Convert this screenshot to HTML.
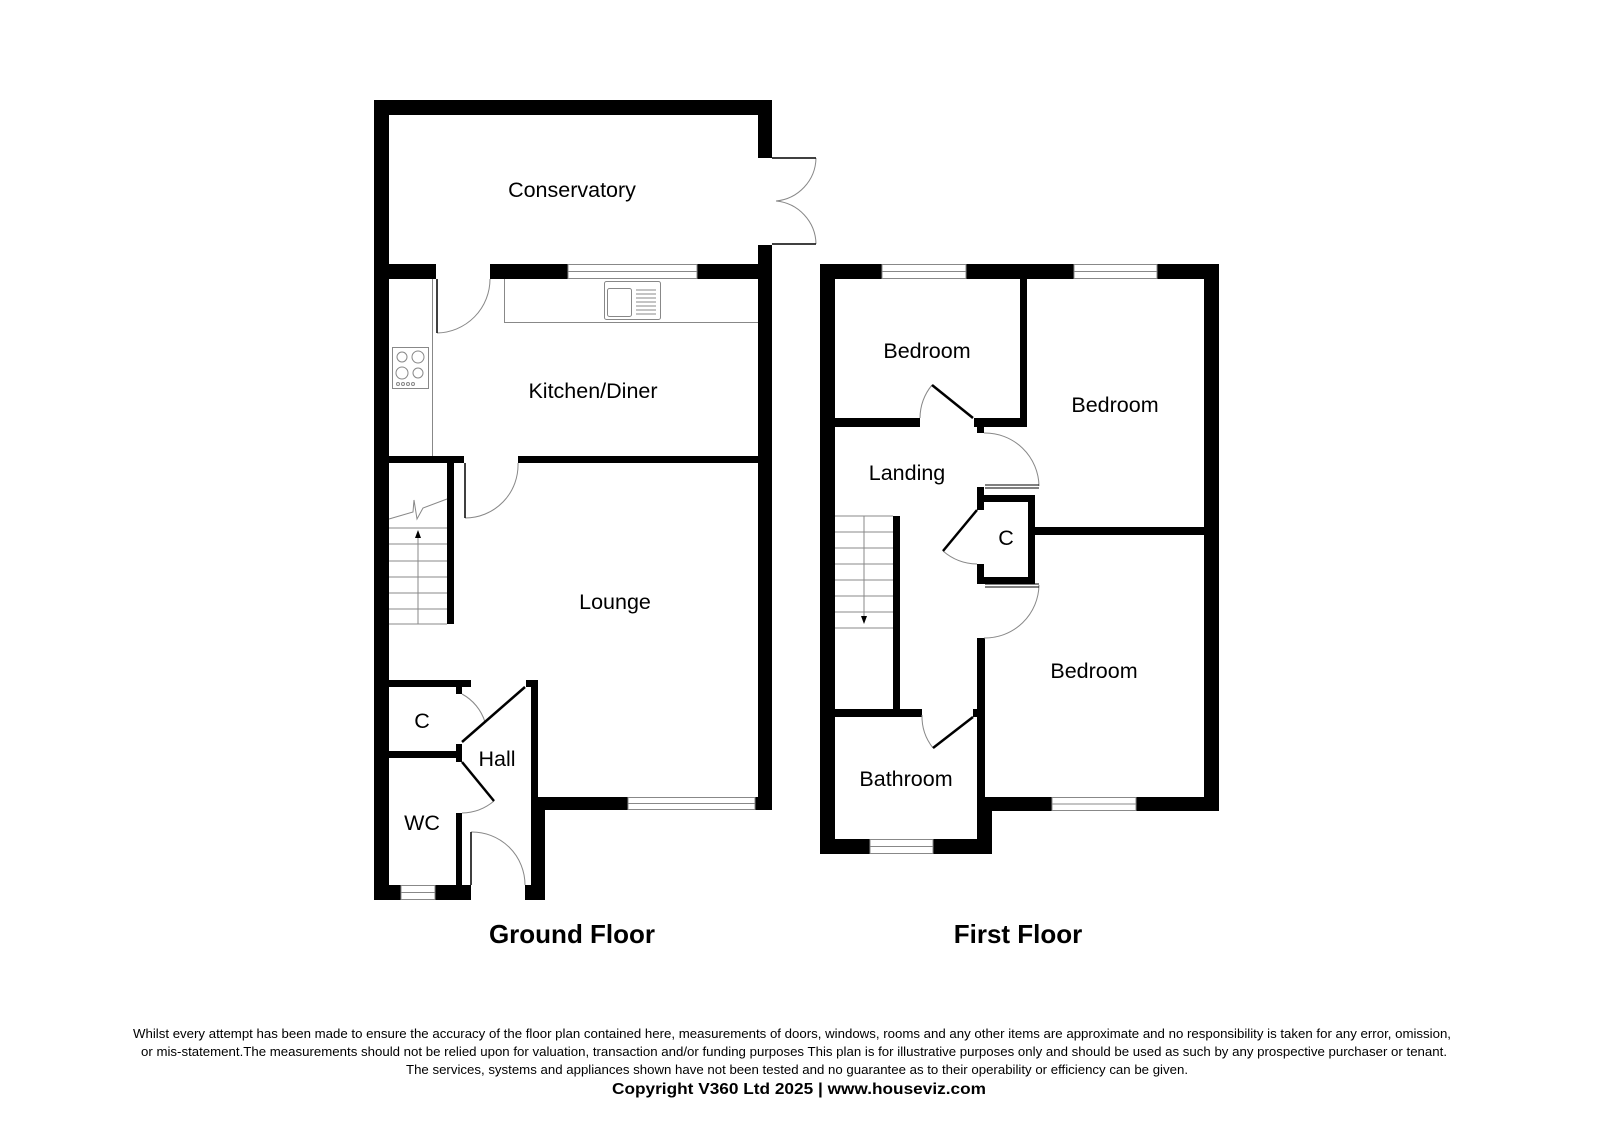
<!DOCTYPE html>
<html><head><meta charset="utf-8"><style>
html,body{margin:0;padding:0;background:#fff;}
svg{display:block;font-family:"Liberation Sans",Arial,sans-serif;}
</style></head><body>
<svg width="1600" height="1130" viewBox="0 0 1600 1130" xmlns="http://www.w3.org/2000/svg">
<g fill="#000">
<rect x="374" y="100" width="15" height="800"/>
<rect x="374" y="100" width="398" height="15"/>
<rect x="758" y="100" width="14" height="58"/>
<rect x="758" y="245" width="14" height="565"/>
<rect x="374" y="264" width="62" height="15"/>
<rect x="490" y="264" width="78" height="15"/>
<rect x="697" y="264" width="61" height="15"/>
<rect x="389" y="456" width="75" height="7"/>
<rect x="518" y="456" width="240" height="7"/>
<rect x="447" y="463" width="7" height="161"/>
<rect x="389" y="680" width="82" height="7"/>
<rect x="456" y="687" width="6" height="7"/>
<rect x="526" y="680" width="12" height="7"/>
<rect x="531" y="680" width="7" height="130"/>
<rect x="531" y="797" width="14" height="103"/>
<rect x="538" y="797" width="90" height="13"/>
<rect x="755" y="797" width="17" height="13"/>
<rect x="389" y="751" width="73" height="7"/>
<rect x="456" y="744" width="6" height="18"/>
<rect x="456" y="813" width="6" height="72"/>
<rect x="374" y="885" width="27" height="15"/>
<rect x="435" y="885" width="36" height="15"/>
<rect x="525" y="885" width="20" height="15"/>
<rect x="820" y="264" width="15" height="590"/>
<rect x="820" y="264" width="62" height="15"/>
<rect x="966" y="264" width="108" height="15"/>
<rect x="1157" y="264" width="62" height="15"/>
<rect x="1204" y="264" width="15" height="547"/>
<rect x="1020" y="279" width="7" height="148"/>
<rect x="835" y="418" width="85" height="9"/>
<rect x="974" y="418" width="53" height="9"/>
<rect x="977" y="427" width="7" height="6"/>
<rect x="977" y="487" width="7" height="23"/>
<rect x="984" y="495" width="51" height="7"/>
<rect x="1028" y="495" width="7" height="89"/>
<rect x="984" y="577" width="51" height="7"/>
<rect x="977" y="564" width="7" height="20"/>
<rect x="1035" y="527" width="169" height="8"/>
<rect x="977" y="638" width="8" height="216"/>
<rect x="977" y="797" width="15" height="57"/>
<rect x="985" y="797" width="67" height="14"/>
<rect x="1136" y="797" width="83" height="14"/>
<rect x="893" y="516" width="7" height="193"/>
<rect x="835" y="709" width="87" height="8"/>
<rect x="973" y="709" width="4" height="8"/>
<rect x="820" y="839" width="50" height="15"/>
<rect x="933" y="839" width="59" height="15"/>
</g>
<g fill="#fff" stroke="#888" stroke-width="1">
<rect x="568" y="264.5" width="129" height="14"/><line x1="568" y1="271.5" x2="697" y2="271.5"/>
<rect x="628" y="797.5" width="127" height="12"/><line x1="628" y1="803.5" x2="755" y2="803.5"/>
<rect x="401" y="885.5" width="34" height="14"/><line x1="401" y1="892.5" x2="435" y2="892.5"/>
<rect x="882" y="264.5" width="84" height="14"/><line x1="882" y1="271.5" x2="966" y2="271.5"/>
<rect x="1074" y="264.5" width="83" height="14"/><line x1="1074" y1="271.5" x2="1157" y2="271.5"/>
<rect x="1052" y="797.5" width="84" height="13"/><line x1="1052" y1="804" x2="1136" y2="804"/>
<rect x="870" y="839.5" width="63" height="14"/><line x1="870" y1="846.5" x2="933" y2="846.5"/>
</g>
<g fill="none" stroke="#888" stroke-width="1">
<line x1="432.5" y1="279" x2="432.5" y2="456"/>
<polyline points="504.5,279 504.5,322.5 758,322.5"/>
<rect x="604.5" y="281.5" width="56" height="38" rx="2"/>
<rect x="607.5" y="288.5" width="24" height="28" rx="2"/>
<line x1="636" y1="290" x2="656" y2="290"/><line x1="636" y1="294" x2="656" y2="294"/>
<line x1="636" y1="298" x2="656" y2="298"/><line x1="636" y1="302" x2="656" y2="302"/>
<line x1="636" y1="306" x2="656" y2="306"/><line x1="636" y1="310" x2="656" y2="310"/>
<line x1="636" y1="314" x2="656" y2="314"/>
<rect x="392.5" y="347.5" width="36" height="41"/>
<circle cx="402" cy="357" r="5"/><circle cx="418" cy="357" r="6"/>
<circle cx="402" cy="373" r="6"/><circle cx="418" cy="373" r="5"/>
<circle cx="398" cy="384" r="1.5"/><circle cx="403" cy="384" r="1.5"/><circle cx="408" cy="384" r="1.5"/><circle cx="413" cy="384" r="1.5"/>
<line x1="389" y1="528" x2="447" y2="528"/><line x1="389" y1="544" x2="447" y2="544"/>
<line x1="389" y1="561" x2="447" y2="561"/><line x1="389" y1="577" x2="447" y2="577"/>
<line x1="389" y1="593" x2="447" y2="593"/><line x1="389" y1="609" x2="447" y2="609"/>
<line x1="389" y1="624" x2="447" y2="624"/>
<line x1="418" y1="624" x2="418" y2="535"/>
<polyline points="389,519 413,512 414,500 417,519 423,508 447,499"/>
<line x1="835" y1="516" x2="893" y2="516"/><line x1="835" y1="532" x2="893" y2="532"/>
<line x1="835" y1="548" x2="893" y2="548"/><line x1="835" y1="564" x2="893" y2="564"/>
<line x1="835" y1="580" x2="893" y2="580"/><line x1="835" y1="596" x2="893" y2="596"/>
<line x1="835" y1="612" x2="893" y2="612"/><line x1="835" y1="628" x2="893" y2="628"/>
<line x1="864" y1="516" x2="864" y2="620"/>
<path d="M437,333 A54,54 0 0 0 490,279"/>
<path d="M465,518 A53,53 0 0 0 518,463"/>
<path d="M471,832 A53,53 0 0 1 525,885"/>
<path d="M462,694 A48,48 0 0 1 485,722"/>
<path d="M494,801 A51,51 0 0 1 462,813"/>
<path d="M816,158 A44,44 0 0 1 776,201"/>
<path d="M816,244 A44,44 0 0 0 776,201"/>
<path d="M920,418 A53,53 0 0 1 932,385"/>
<path d="M984,433 A54,54 0 0 1 1039,486"/>
<path d="M943,551 A53,53 0 0 0 977,564"/>
<path d="M1039,585 A54,54 0 0 1 984,638"/>
<path d="M922,715 A51,51 0 0 0 933,748"/>
</g>
<g fill="#000">
<polygon points="418,530 415,538 421,538"/>
<polygon points="864,624 861,616 867,616"/>
</g>
<g stroke="#000" fill="none">
<line x1="437" y1="279" x2="437" y2="333" stroke-width="1.5"/>
<line x1="465" y1="463" x2="465" y2="518" stroke-width="1.5"/>
<line x1="471" y1="832" x2="471" y2="885" stroke-width="1.5"/>
<line x1="772" y1="158" x2="816" y2="158" stroke-width="1.5"/>
<line x1="772" y1="244" x2="816" y2="244" stroke-width="1.5"/>
<line x1="462" y1="742" x2="525" y2="687" stroke-width="2.5"/>
<line x1="462" y1="762" x2="494" y2="801" stroke-width="2.5"/>
<line x1="932" y1="385" x2="973" y2="418" stroke-width="2.5"/>
<line x1="977" y1="510" x2="943" y2="551" stroke-width="2.5"/>
<line x1="933" y1="748" x2="973" y2="717" stroke-width="2.5"/>
<line x1="985" y1="485" x2="1039" y2="485" stroke-width="1"/>
<line x1="985" y1="488" x2="1039" y2="488" stroke-width="1"/>
<line x1="985" y1="584" x2="1039" y2="584" stroke-width="1"/>
<line x1="985" y1="587" x2="1039" y2="587" stroke-width="1"/>
</g>
<g font-size="21.5" fill="#000" text-anchor="middle">
<text x="572" y="197">Conservatory</text>
<text x="593" y="398">Kitchen/Diner</text>
<text x="615" y="609">Lounge</text>
<text x="422" y="728">C</text>
<text x="497" y="766">Hall</text>
<text x="422" y="830">WC</text>
<text x="927" y="358">Bedroom</text>
<text x="1115" y="412">Bedroom</text>
<text x="907" y="480">Landing</text>
<text x="1006" y="545">C</text>
<text x="1094" y="678">Bedroom</text>
<text x="906" y="786">Bathroom</text>
</g>
<g font-size="26" font-weight="bold" text-anchor="middle">
<text x="572" y="943">Ground Floor</text>
<text x="1018" y="943">First Floor</text>
</g>
<g font-size="12.5" text-anchor="middle">
<text x="792" y="1038" textLength="1318" lengthAdjust="spacingAndGlyphs">Whilst every attempt has been made to ensure the accuracy of the floor plan contained here, measurements of doors, windows, rooms and any other items are approximate and no responsibility is taken for any error, omission,</text>
<text x="794" y="1056" textLength="1306" lengthAdjust="spacingAndGlyphs">or mis-statement.The measurements should not be relied upon for valuation, transaction and/or funding purposes This plan is for illustrative purposes only and should be used as such by any prospective purchaser or tenant.</text>
<text x="797" y="1074" textLength="782" lengthAdjust="spacingAndGlyphs">The services, systems and appliances shown have not been tested and no guarantee as to their operability or efficiency can be given.</text>
</g>
<text x="799" y="1094" font-size="15.5" font-weight="bold" text-anchor="middle" textLength="374" lengthAdjust="spacingAndGlyphs">Copyright V360 Ltd 2025 | www.houseviz.com</text>
</svg>
</body></html>
